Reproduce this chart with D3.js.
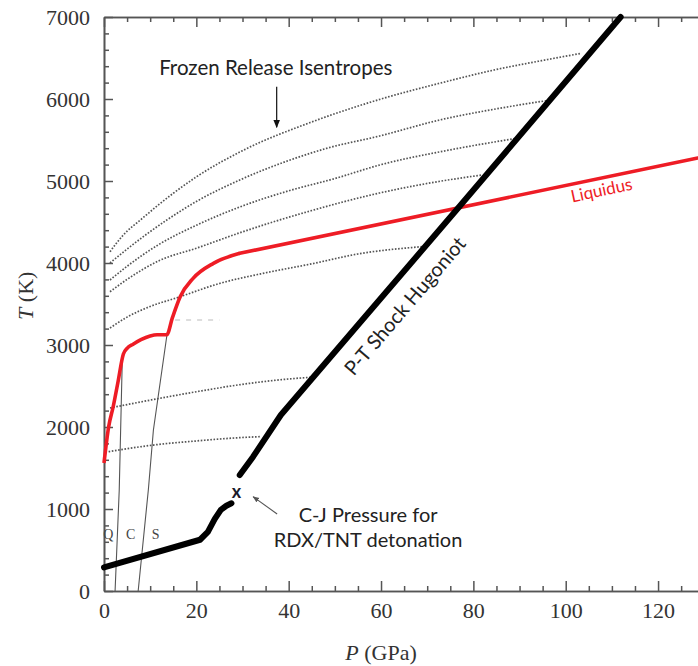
<!DOCTYPE html>
<html><head><meta charset="utf-8">
<script src="https://cdn.jsdelivr.net/npm/d3@7"></script>
<style>body{margin:0;background:#fff}svg{display:block}</style>
</head><body>
<svg id="c" width="698" height="666"></svg>
<script>
// ---------- data (P in GPa, T in K) ----------
const xMajorTicks = [0, 20, 40, 60, 80, 100, 120];
const yMajorTicks = [0, 1000, 2000, 3000, 4000, 5000, 6000, 7000];

// liquidus: curved low-pressure part, then straight high-pressure part
const liquidusCurved = [[0,1560],[1.0,2000],[2.0,2250],[3.0,2540],[4.2,2890],[5.0,2960],[6.3,3010],[8.0,3065],[10,3110],[11.5,3125],[13.6,3125],[14.8,3330],[16.5,3589],[19.3,3813],[23.7,3996],[29.4,4118]];
const liquidusStraight = [[29.4,4118],[128.6,5280]];

const hugoniotLow = [[0,287],[20.8,625],[22.5,720],[24,880],[25.3,990],[26.5,1040],[27.6,1070]];
const hugoniotHigh = [[29.4,1415],[32.3,1638],[38.3,2146],[76.7,4670],[111.9,7000]];

const isentrope1 = [[1.3,4138],[4,4330],[8.4,4549],[15,4850],[20,5050],[30,5370],[45,5720],[60,6000],[72.7,6192],[85,6360],[95,6470],[103.4,6557]];
const isentrope2 = [[1.3,4000],[5,4170],[13.6,4524],[20,4750],[29.4,5012],[40,5250],[48.2,5398],[59.7,5549],[72.7,5744],[85,5880],[95.8,5979]];
const isentrope3 = [[1.3,3793],[5,3960],[12,4230],[20,4460],[29.4,4683],[40,4880],[50,5030],[59.7,5195],[75,5380],[89.3,5520]];
const isentrope4 = [[1.3,3650],[5,3800],[12,4030],[20,4180],[30,4380],[45,4640],[59.7,4854],[70,4970],[81.8,5073]];
const isentrope5 = [[1.3,3207],[5,3340],[10,3470],[16,3580],[25,3750],[35,3880],[45,3990],[55,4110],[69,4200]];
const isentrope6 = [[1.3,2232],[12.1,2350],[20,2430],[31.6,2533],[38,2575],[44.6,2606]];
const isentrope7 = [[1.0,1699],[10.7,1780],[20,1830],[29.4,1870],[33.8,1882]];
const isentropes = [isentrope1, isentrope2, isentrope3, isentrope4, isentrope5, isentrope6, isentrope7];

const boundaryQC = [[2.4,0],[3.3,1232],[3.95,2800]];
const boundaryCS = [[7.4,0],[9.6,1232],[10.7,1963],[13.6,3110]];
const dashed3300 = [[15.4,3305],[25,3305]];

const phaseLabels = [["Q",0.95],["C",5.8],["S",11.2]];
const cjPoint = [28.7, 1211];

// ---------- chart ----------
const svg = d3.select("#c");
const x = d3.scaleLinear().domain([0, 128.65]).range([104, 698]);
const y = d3.scaleLinear().domain([0, 7000]).range([591, 17]);
const line = d3.line().x(d => x(d[0])).y(d => y(d[1]));
const smooth = d3.line().x(d => x(d[0])).y(d => y(d[1])).curve(d3.curveMonotoneX);

const defs = svg.append("defs");
defs.append("marker").attr("id","ah").attr("viewBox","0 0 10 10").attr("refX",9).attr("refY",5)
  .attr("markerWidth",7).attr("markerHeight",7).attr("orient","auto-start-reverse")
  .append("path").attr("d","M0,1 L10,5 L0,9 z").attr("fill","#111");
defs.append("marker").attr("id","ah2").attr("viewBox","0 0 10 10").attr("refX",9).attr("refY",5)
  .attr("markerWidth",6).attr("markerHeight",6).attr("orient","auto-start-reverse")
  .append("path").attr("d","M0,1 L10,5 L0,9 z").attr("fill","#555");

// axes
const axisColor = "#555";
const minorX = d3.range(0, 129, 5).filter(v => v % 20 !== 0);
const minorY = d3.range(0, 7001, 200).filter(v => v % 1000 !== 0);
function styleAxis(g){ g.selectAll("path,line").attr("stroke",axisColor).attr("stroke-width",1.5); g.select(".domain").attr("stroke-width",1.6); }

svg.append("g").attr("transform",`translate(0,${y(0)})`)
  .call(d3.axisBottom(x).tickValues(xMajorTicks).tickFormat(d3.format("d")).tickSize(-10).tickSizeOuter(0).tickPadding(11))
  .call(styleAxis)
  .call(g => g.selectAll("text").attr("font-family","Liberation Serif").attr("font-size",22).attr("fill","#333"));
svg.append("g").attr("transform",`translate(0,${y(0)})`)
  .call(d3.axisBottom(x).tickValues(minorX).tickSize(-5).tickSizeOuter(0).tickFormat(""))
  .call(styleAxis);
svg.append("g").attr("transform",`translate(0,${y(7000)})`)
  .call(d3.axisTop(x).tickValues(xMajorTicks).tickSize(-10).tickSizeOuter(0).tickFormat(""))
  .call(styleAxis);
svg.append("g").attr("transform",`translate(0,${y(7000)})`)
  .call(d3.axisTop(x).tickValues(minorX).tickSize(-5).tickSizeOuter(0).tickFormat(""))
  .call(styleAxis);
svg.append("g").attr("transform",`translate(${x(0)},0)`)
  .call(d3.axisLeft(y).tickValues(yMajorTicks).tickFormat(d3.format("d")).tickSize(-9).tickSizeOuter(0).tickPadding(14))
  .call(styleAxis)
  .call(g => g.selectAll("text").attr("font-family","Liberation Serif").attr("font-size",22).attr("fill","#333"));
svg.append("g").attr("transform",`translate(${x(0)},0)`)
  .call(d3.axisLeft(y).tickValues(minorY).tickSize(-5).tickSizeOuter(0).tickFormat(""))
  .call(styleAxis);

// axis titles
const tT = svg.append("text").attr("transform",`translate(33,${y(3600)}) rotate(-90)`)
  .attr("text-anchor","middle").attr("font-family","Liberation Serif").attr("font-size",22).attr("fill","#333");
tT.append("tspan").attr("font-style","italic").text("T");
tT.append("tspan").text(" (K)");
const tP = svg.append("text").attr("x",x(60)).attr("y",660)
  .attr("text-anchor","middle").attr("font-family","Liberation Serif").attr("font-size",22).attr("fill","#333");
tP.append("tspan").attr("font-style","italic").text("P");
tP.append("tspan").text(" (GPa)");

// phase boundaries
svg.append("path").attr("d",line(boundaryQC)).attr("fill","none").attr("stroke","#555").attr("stroke-width",1.1);
svg.append("path").attr("d",line(boundaryCS)).attr("fill","none").attr("stroke","#555").attr("stroke-width",1.1);
svg.append("path").attr("d",line(dashed3300)).attr("fill","none").attr("stroke","#bbb").attr("stroke-width",1.2).attr("stroke-dasharray","5,6");

phaseLabels.forEach(([t,p]) => svg.append("text").attr("x",x(p)).attr("y",y(640))
  .attr("text-anchor","middle").attr("font-family","Liberation Serif").attr("font-size",14).attr("fill","#444").text(t));

// isentropes
svg.append("g").selectAll("path").data(isentropes).join("path")
  .attr("d",smooth).attr("fill","none").attr("stroke","#555").attr("stroke-width",1.7).attr("stroke-dasharray","1.6,1.6");

// liquidus
const red = "#ee1c25";
svg.append("path").attr("d",smooth(liquidusCurved)).attr("fill","none").attr("stroke",red).attr("stroke-width",3.6).attr("stroke-linejoin","round");
svg.append("path").attr("d",line(liquidusStraight)).attr("fill","none").attr("stroke",red).attr("stroke-width",3.6).attr("stroke-linecap","round");

// Hugoniot
[hugoniotLow, hugoniotHigh].forEach(d => svg.append("path").attr("d",line(d)).attr("fill","none")
  .attr("stroke","#000").attr("stroke-width",6).attr("stroke-linecap","round").attr("stroke-linejoin","round"));

// CJ point
svg.append("text").attr("x",x(cjPoint[0])).attr("y",y(cjPoint[1])).attr("dy","0.35em").attr("text-anchor","middle")
  .attr("font-family","Lato").attr("font-weight","bold").attr("font-size",18).attr("fill","#1a1a2a").text("x");

// annotations
const annFont = "Lato";
svg.append("text").attr("x",x(37.2)).attr("y",y(6293)).attr("text-anchor","middle")
  .attr("font-family",annFont).attr("font-size",20.5).attr("fill","#222").text("Frozen Release Isentropes");
svg.append("line").attr("x1",x(37.4)).attr("y1",y(6150)).attr("x2",x(37.4)).attr("y2",y(5655))
  .attr("stroke","#111").attr("stroke-width",1.2).attr("marker-end","url(#ah)");

svg.append("text").attr("x",x(57.2)).attr("y",y(845)).attr("text-anchor","middle")
  .attr("font-family",annFont).attr("font-size",20).attr("fill","#222").text("C-J Pressure for");
svg.append("text").attr("x",x(57.2)).attr("y",y(540)).attr("text-anchor","middle")
  .attr("font-family",annFont).attr("font-size",20).attr("fill","#222").text("RDX/TNT detonation");
svg.append("line").attr("x1",x(37.5)).attr("y1",y(939)).attr("x2",x(32.3)).attr("y2",y(1150))
  .attr("stroke","#555").attr("stroke-width",1.1).attr("marker-end","url(#ah2)");

svg.append("text").attr("transform",`translate(${x(65.2)},${y(3476)}) rotate(-49.5)`).attr("text-anchor","middle")
  .attr("dy","0.35em").attr("font-family",annFont).attr("font-size",20).attr("fill","#222").text("P-T Shock Hugoniot");

svg.append("text").attr("transform",`translate(${x(108)},${y(4817)}) rotate(-12)`).attr("text-anchor","middle")
  .attr("font-family",annFont).attr("font-size",17).attr("fill",red).text("Liquidus");
</script>
</body></html>
